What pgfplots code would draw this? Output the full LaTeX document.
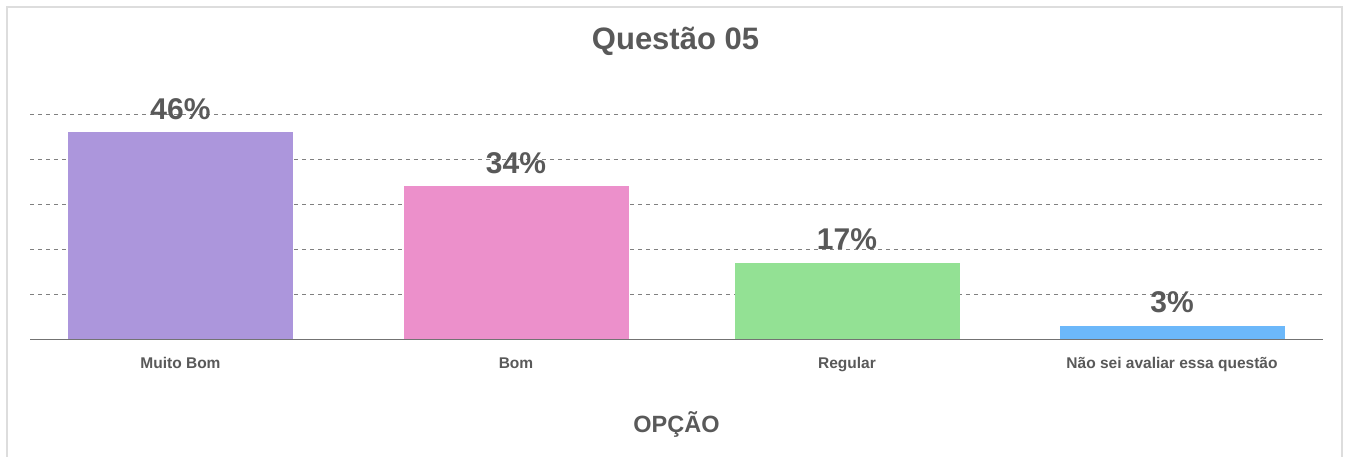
\documentclass[border=0pt]{standalone}
\usepackage{fontspec}
\setmainfont{Liberation Sans}
\usepackage{pgfplots}
\pgfplotsset{compat=1.18}
\definecolor{txt}{HTML}{595959}
\definecolor{cA}{HTML}{AC96DC}
\definecolor{cB}{HTML}{EC90CB}
\definecolor{cC}{HTML}{93E194}
\definecolor{cD}{HTML}{6CB8FA}
\definecolor{brd}{HTML}{DDDDDD}
\begin{document}
\begin{tikzpicture}[x=1pt,y=1pt]
\useasboundingbox (0,0) rectangle (1351,456);
\fill[white] (0,0) rectangle (1351,456);
\draw[brd, line width=2pt] (7,-2) -- (7,449) -- (1342,449) -- (1342,-2);
\node[font=\bfseries\fontsize{31}{36}\selectfont, text=txt] at (675.5,415) {Questão 05};
\begin{axis}[
  at={(30pt,117pt)}, anchor=south west,
  scale only axis, width=1293pt, height=225pt,
  xmin=30, xmax=1323, ymin=0, ymax=50,
  axis x line*=bottom,
  axis y line*=left,
  y axis line style={draw=none},
  x axis line style={-, draw=black!55, line width=1pt},
  ytick={10,20,30,40,50},
  yticklabels={},
  ytick style={draw=none},
  ymajorgrids, major grid style={black!50, line width=0.8pt, dash pattern=on 4pt off 4pt},
  xtick={180.5,516,847,1172},
  xticklabels={Muito Bom, Bom, Regular, Não sei avaliar essa questão},
  xtick style={draw=none},
  xticklabel style={font=\bfseries\fontsize{15.5}{18}\selectfont, text=txt, anchor=base, yshift=-25pt},
  xlabel={OPÇÃO},
  xlabel style={font=\bfseries\fontsize{23.5}{28}\selectfont, text=txt, at={(axis description cs:0.5,0)}, anchor=center, yshift=-85pt},
  ybar, bar width=225pt, bar shift=0pt,
  point meta=y,
  nodes near coords={\pgfmathprintnumber{\pgfplotspointmeta}\%},
  nodes near coords style={font=\bfseries\fontsize{30}{36}\selectfont, text=txt, anchor=base, yshift=13pt, inner sep=0pt},
  /pgf/number format/assume math mode=true,
]
\addplot[fill=cA, draw=none] coordinates {(180.5,46)};
\addplot[fill=cB, draw=none] coordinates {(516,34)};
\addplot[fill=cC, draw=none] coordinates {(847,17)};
\addplot[fill=cD, draw=none] coordinates {(1172,3)};
\end{axis}
\end{tikzpicture}
\end{document}
